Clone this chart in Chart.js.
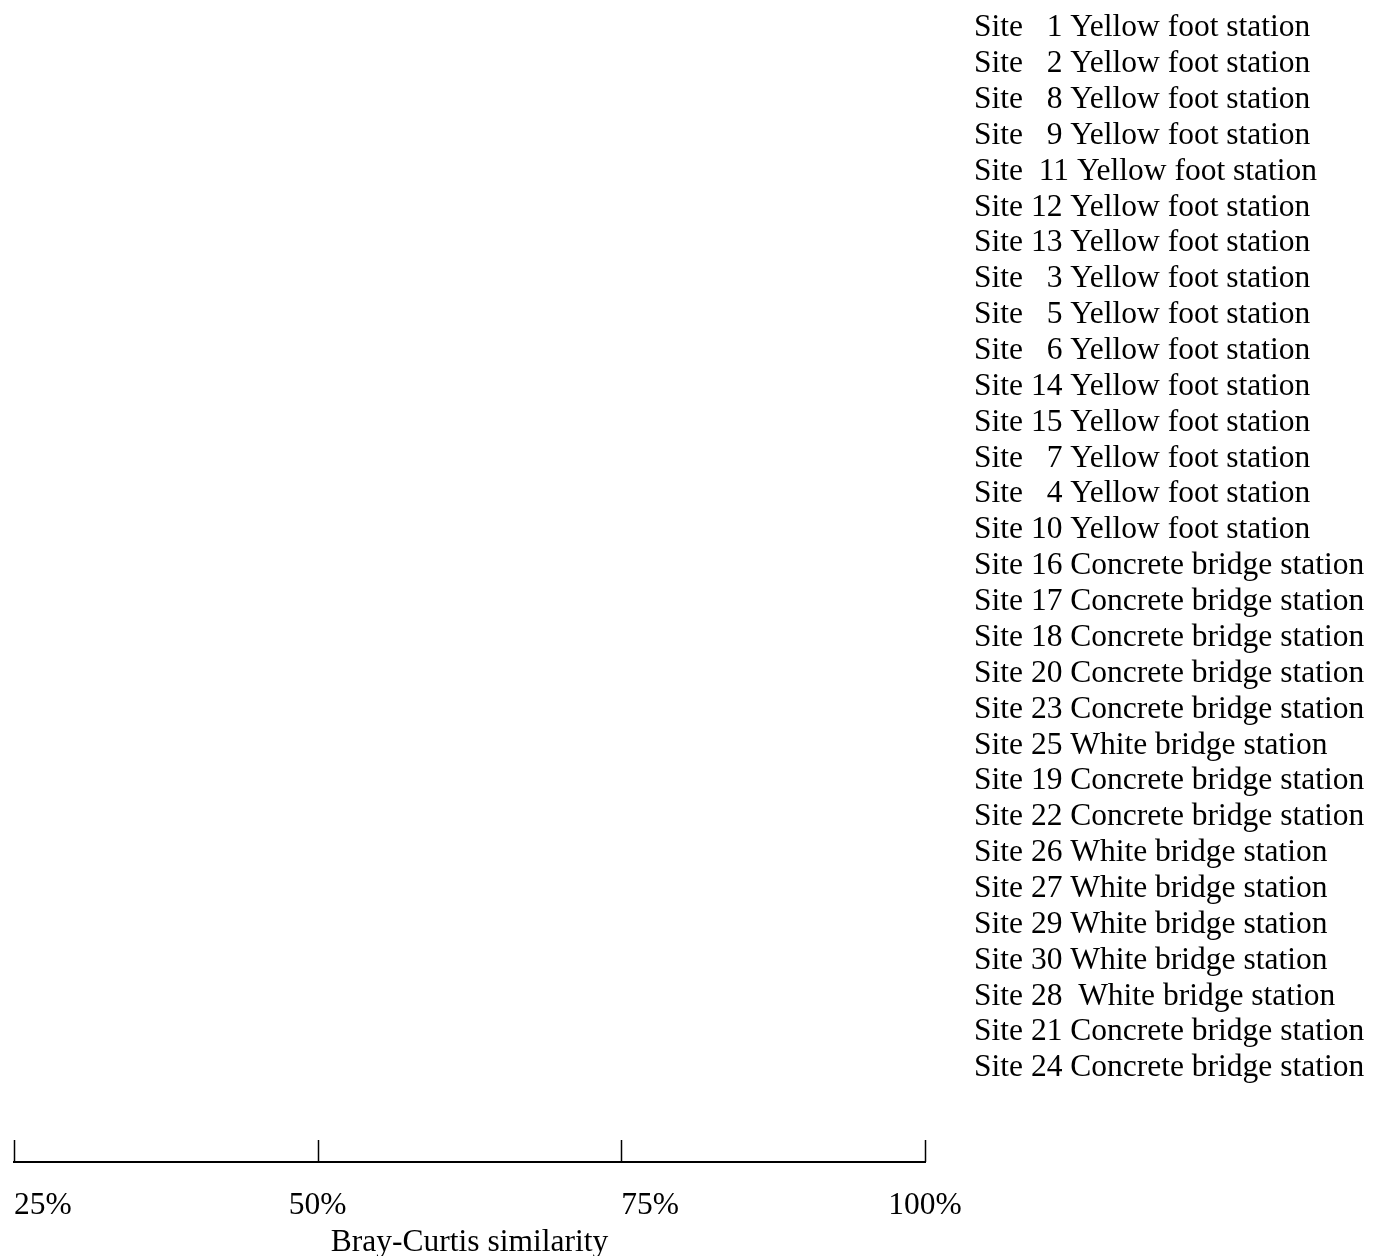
<!DOCTYPE html>
<html lang="en">
<head>
    <meta charset="UTF-8">
    <title>Bray-Curtis similarity</title>
    <style>
        body {
            margin: 0;
            padding: 0;
            background-color: #fff;
        }

        #chart-box {
            width: 1374px;
            height: 1256px;
            position: relative;
        }
    </style>
    <script src="https://cdn.jsdelivr.net/npm/chart.js"></script>
</head>
<body>

<div id="chart-box">
    <canvas id="similarityChart"></canvas>
</div>

<script>
    // site order as listed down the right side (top to bottom)
    const siteLabels = [
        'Site   1 Yellow foot station',
        'Site   2 Yellow foot station',
        'Site   8 Yellow foot station',
        'Site   9 Yellow foot station',
        'Site  11 Yellow foot station',
        'Site 12 Yellow foot station',
        'Site 13 Yellow foot station',
        'Site   3 Yellow foot station',
        'Site   5 Yellow foot station',
        'Site   6 Yellow foot station',
        'Site 14 Yellow foot station',
        'Site 15 Yellow foot station',
        'Site   7 Yellow foot station',
        'Site   4 Yellow foot station',
        'Site 10 Yellow foot station',
        'Site 16 Concrete bridge station',
        'Site 17 Concrete bridge station',
        'Site 18 Concrete bridge station',
        'Site 20 Concrete bridge station',
        'Site 23 Concrete bridge station',
        'Site 25 White bridge station',
        'Site 19 Concrete bridge station',
        'Site 22 Concrete bridge station',
        'Site 26 White bridge station',
        'Site 27 White bridge station',
        'Site 29 White bridge station',
        'Site 30 White bridge station',
        'Site 28  White bridge station',
        'Site 21 Concrete bridge station',
        'Site 24 Concrete bridge station'
    ];

    const similarityTicks = [25, 50, 75, 100];
    const axisTitle = 'Bray-Curtis similarity';

    const serif = "'Liberation Serif', 'Times New Roman', serif";
    const fontSize = 31.5;

    // tick marks point up into the plot, labels sit below
    const upTicks = {
        id: 'upTicks',
        afterDraw(chart) {
            const ctx = chart.ctx;
            const x = chart.scales.x;
            const bottom = chart.chartArea.bottom;
            const aligns = ['left', 'center', 'left', 'center'];

            ctx.save();
            ctx.strokeStyle = '#000';
            ctx.lineWidth = 1.5;
            similarityTicks.forEach(v => {
                const px = Math.round(x.getPixelForValue(v)) + 0.5;
                ctx.beginPath();
                ctx.moveTo(px, bottom);
                ctx.lineTo(px, bottom - 22);
                ctx.stroke();
            });

            ctx.fillStyle = '#000';
            ctx.font = fontSize + 'px ' + serif;
            ctx.textBaseline = 'middle';
            similarityTicks.forEach((v, i) => {
                ctx.textAlign = aligns[i];
                ctx.fillText(v + '%', x.getPixelForValue(v), bottom + 44);
            });
            ctx.restore();
        }
    };

    const ctx = document.getElementById('similarityChart').getContext('2d');
    new Chart(ctx, {
        type: 'scatter',
        data: {
            datasets: [{ data: [] }]
        },
        options: {
            responsive: true,
            maintainAspectRatio: false,
            animation: false,
            layout: { padding: { left: 14, top: 0, right: 0, bottom: 0 } },
            plugins: {
                legend: { display: false },
                tooltip: { enabled: false }
            },
            scales: {
                x: {
                    type: 'linear',
                    position: 'bottom',
                    min: 25,
                    max: 100,
                    afterBuildTicks: scale => {
                        scale.ticks = similarityTicks.map(v => ({ value: v }));
                    },
                    afterFit: scale => { scale.height = 94; },
                    grid: { display: true, drawOnChartArea: false, drawTicks: false },
                    border: { display: true, color: '#000', width: 2 },
                    ticks: { display: false },
                    title: {
                        display: true,
                        text: axisTitle,
                        color: '#000',
                        font: { family: serif, size: fontSize, lineHeight: 1 },
                        padding: { top: 0, bottom: -2 }
                    }
                },
                y: {
                    type: 'linear',
                    position: 'right',
                    reverse: true,
                    min: -0.781,
                    max: 31.62,
                    afterBuildTicks: scale => {
                        scale.ticks = siteLabels.map((_, i) => ({ value: i }));
                    },
                    afterFit: scale => {
                        scale.width = 449;
                        scale.paddingTop = 0;
                        scale.paddingBottom = 0;
                    },
                    grid: { display: false },
                    border: { display: false },
                    ticks: {
                        autoSkip: false,
                        padding: 41,
                        color: '#000',
                        font: { family: serif, size: fontSize },
                        callback: value => siteLabels[value]
                    }
                }
            }
        },
        plugins: [upTicks]
    });
</script>
</body>
</html>
